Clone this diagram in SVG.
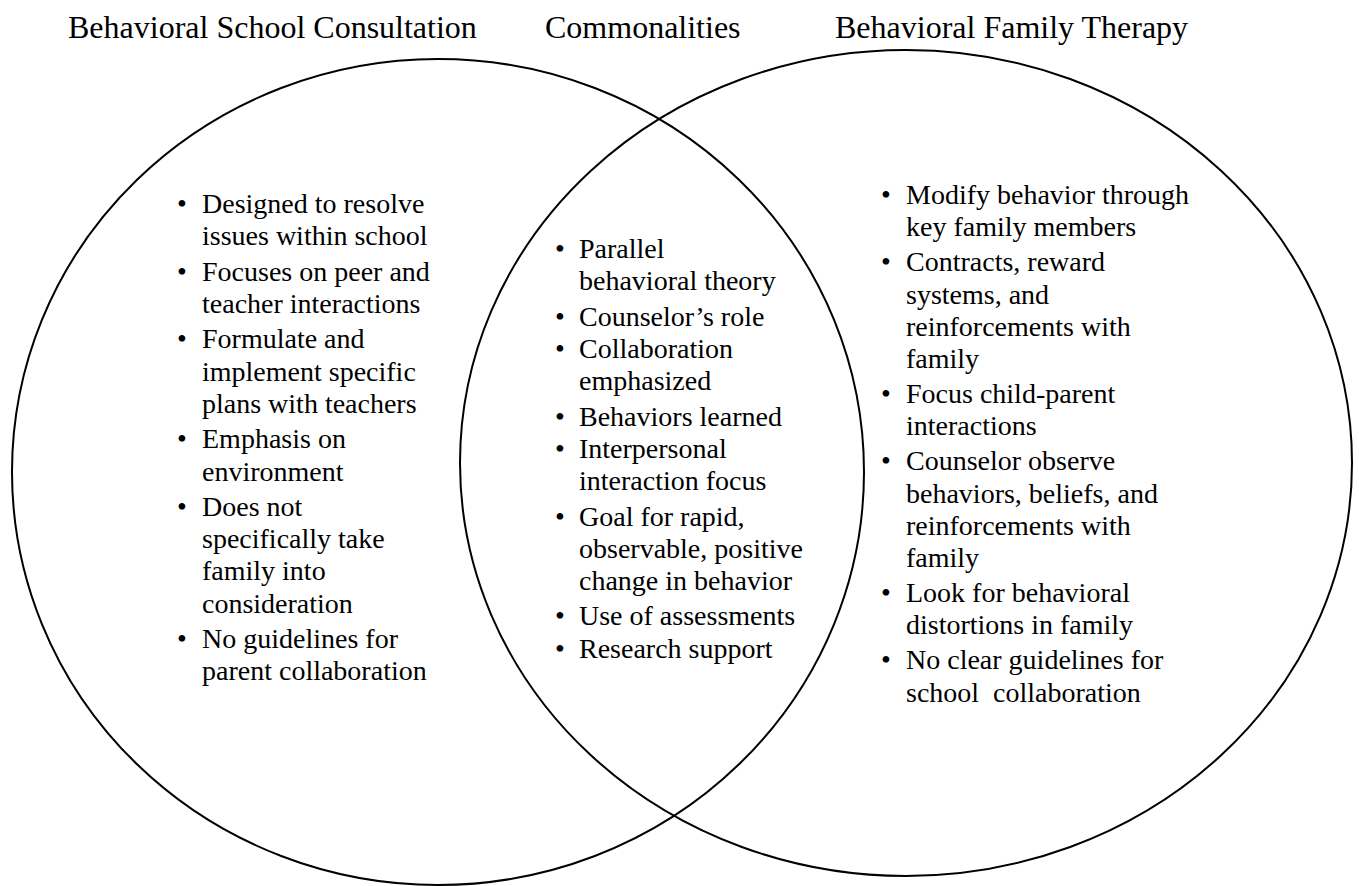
<svg xmlns="http://www.w3.org/2000/svg" width="1359" height="886" viewBox="0 0 1359 886">
<style>
.t{font-family:"Liberation Serif","Times New Roman",serif;fill:#000}
.h{font-size:32px}
.b{font-size:28px}
.c{fill:none;stroke:#000;stroke-width:2}
</style>
<rect width="1359" height="886" fill="#fff"/>
<g id="connectors">
<ellipse class="c" cx="438" cy="472" rx="426" ry="413"/>
<ellipse class="c" cx="906" cy="463" rx="446" ry="413"/>
</g>
<g id="titles" class="t h">
<text x="68" y="38">Behavioral School Consultation</text>
<text x="545" y="38">Commonalities</text>
<text x="835" y="38">Behavioral Family Therapy</text>
</g>
<g id="left" class="t b">
<text x="177" y="213">•</text><text x="202" y="213">Designed to resolve</text>
<text x="202" y="245.2">issues within school</text>
<text x="177" y="280.7">•</text><text x="202" y="280.7">Focuses on peer and</text>
<text x="202" y="312.9">teacher interactions</text>
<text x="177" y="348.4">•</text><text x="202" y="348.4">Formulate and</text>
<text x="202" y="380.6">implement specific</text>
<text x="202" y="412.8">plans with teachers</text>
<text x="177" y="448.3">•</text><text x="202" y="448.3">Emphasis on</text>
<text x="202" y="480.5">environment</text>
<text x="177" y="516">•</text><text x="202" y="516">Does not</text>
<text x="202" y="548.2">specifically take</text>
<text x="202" y="580.4">family into</text>
<text x="202" y="612.6">consideration</text>
<text x="177" y="648.1">•</text><text x="202" y="648.1">No guidelines for</text>
<text x="202" y="680.3">parent collaboration</text>
</g>
<g id="middle" class="t b">
<text x="555" y="258">•</text><text x="579" y="258">Parallel</text>
<text x="579" y="290.2">behavioral theory</text>
<text x="555" y="325.7">•</text><text x="579" y="325.7">Counselor’s role</text>
<text x="555" y="357.9">•</text><text x="579" y="357.9">Collaboration</text>
<text x="579" y="390.1">emphasized</text>
<text x="555" y="425.6">•</text><text x="579" y="425.6">Behaviors learned</text>
<text x="555" y="457.8">•</text><text x="579" y="457.8">Interpersonal</text>
<text x="579" y="490">interaction focus</text>
<text x="555" y="525.5">•</text><text x="579" y="525.5">Goal for rapid,</text>
<text x="579" y="557.7">observable, positive</text>
<text x="579" y="589.9">change in behavior</text>
<text x="555" y="625.4">•</text><text x="579" y="625.4">Use of assessments</text>
<text x="555" y="657.6">•</text><text x="579" y="657.6">Research support</text>
</g>
<g id="right" class="t b">
<text x="881" y="204">•</text><text x="906" y="204">Modify behavior through</text>
<text x="906" y="236.1">key family members</text>
<text x="881" y="271.4">•</text><text x="906" y="271.4">Contracts, reward</text>
<text x="906" y="303.5">systems, and</text>
<text x="906" y="335.6">reinforcements with</text>
<text x="906" y="367.7">family</text>
<text x="881" y="403">•</text><text x="906" y="403">Focus child-parent</text>
<text x="906" y="435.1">interactions</text>
<text x="881" y="470.4">•</text><text x="906" y="470.4">Counselor observe</text>
<text x="906" y="502.5">behaviors, beliefs, and</text>
<text x="906" y="534.6">reinforcements with</text>
<text x="906" y="566.7">family</text>
<text x="881" y="602">•</text><text x="906" y="602">Look for behavioral</text>
<text x="906" y="634.1">distortions in family</text>
<text x="881" y="669.4">•</text><text x="906" y="669.4">No clear guidelines for</text>
<text x="906" y="701.5" xml:space="preserve">school  collaboration</text>
</g>
</svg>
